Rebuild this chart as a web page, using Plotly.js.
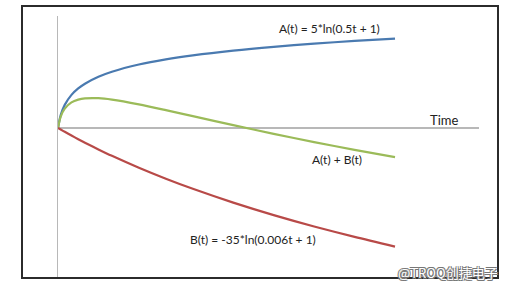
<!DOCTYPE html>
<html>
<head>
<meta charset="utf-8">
<script src="https://cdn.plot.ly/plotly-3.0.1.min.js"></script>
<style>
  html, body { margin: 0; padding: 0; background: #fff; }
  #wrap { position: relative; width: 509px; height: 283px; overflow: hidden; }
  #frame { position: absolute; left: 21px; top: 5px; width: 474px; height: 270px; border: 2px solid #2b2b2b; }
  #chart { position: absolute; left: 0; top: 0; width: 509px; height: 283px; }
</style>
</head>
<body>
<div id="wrap">
  <div id="frame"></div>
  <div id="chart"></div>
</div>
<script>
// Time values
const time = [0, 2, 5, 10, 15, 20, 30, 40, 60, 80, 100, 130, 160, 190, 220, 250];
// A(t) = 5*ln(0.5t + 1)  (blue)
const seriesA = [0, 3.47, 6.26, 8.96, 10.70, 11.99, 13.86, 15.22, 17.17, 18.57, 19.66, 20.95, 21.97, 22.82, 23.55, 24.18];
// B(t) = -35*ln(0.006t + 1)  (red)
const seriesB = [0, -0.42, -1.03, -2.04, -3.02, -3.97, -5.79, -7.53, -10.76, -13.72, -16.45, -20.18, -23.55, -26.63, -29.45, -32.07];
// A(t) + B(t)  (green)
const seriesSum = [0, 3.05, 5.23, 6.92, 7.68, 8.02, 8.07, 7.69, 6.41, 4.85, 3.21, 0.77, -1.58, -3.81, -5.90, -7.89];

const labels = {
  a: 'A(t) = 5*ln(0.5t + 1)',
  b: 'B(t) = -35*ln(0.006t + 1)',
  sum: 'A(t) + B(t)',
  xTitle: 'Time',
  yTitle: 'Δf/f',
  mark: '@TROQ创捷电子'
};

const lineStyle = (c) => ({ color: c, width: 2.2, shape: 'spline', smoothing: 0.8 });

const traces = [
  { x: time, y: seriesA, mode: 'lines', line: lineStyle('#4a7ab0'), hoverinfo: 'skip' },
  { x: time, y: seriesSum, mode: 'lines', line: lineStyle('#9bbb59'), hoverinfo: 'skip' },
  { x: time, y: seriesB, mode: 'lines', line: lineStyle('#b84a48'), hoverinfo: 'skip' }
];

const font = { family: 'Lato, "Open Sans", sans-serif', size: 12, color: '#222' };

const layout = {
  width: 509, height: 283,
  margin: { l: 58, r: 30, t: 16, b: 6, pad: 0 },
  paper_bgcolor: 'rgba(0,0,0,0)',
  plot_bgcolor: 'rgba(0,0,0,0)',
  showlegend: false,
  xaxis: {
    range: [0, 312.3], showgrid: false, zeroline: false, showticklabels: false,
    ticks: '', showline: false, fixedrange: true
  },
  yaxis: {
    range: [-40.3, 30.3], showgrid: false, showticklabels: false, ticks: '',
    zeroline: true, zerolinecolor: '#b8b8b8', zerolinewidth: 1.3,
    showline: true, linecolor: '#b8b8b8', linewidth: 1.3, fixedrange: true
  },
  annotations: [
    { x: 162.5, y: 27, xref: 'x', yref: 'y', xanchor: 'left', yanchor: 'middle', text: labels.a, showarrow: false, font: font },
    { x: 207.3, y: -8.4, xref: 'x', yref: 'y', xanchor: 'center', yanchor: 'middle', text: labels.sum, showarrow: false, font: font },
    { x: 96.4, y: -30.1, xref: 'x', yref: 'y', xanchor: 'left', yanchor: 'middle', text: labels.b, showarrow: false, font: font },
    { x: 286, y: 2.2, xref: 'x', yref: 'y', xanchor: 'center', yanchor: 'middle', text: labels.xTitle, showarrow: false,
      font: { family: font.family, size: 13, color: '#222' } },
    { x: -11.9, y: -1.1, xref: 'x', yref: 'y', xanchor: 'center', yanchor: 'middle', textangle: -90, text: labels.yTitle, showarrow: false,
      font: { family: font.family, size: 13, color: '#222', weight: 'bold' } },
    { x: 1.05, y: 0.019, xref: 'paper', yref: 'paper', xanchor: 'right', yanchor: 'middle', text: labels.mark, showarrow: false,
      font: { family: '"Noto Sans CJK SC", "Noto Sans", sans-serif', size: 13, color: '#ffffff',
        shadow: '-1px -1px 0 #777, 1px -1px 0 #777, -1px 1px 0 #777, 1px 1px 0 #777' } }
  ]
};

Plotly.newPlot('chart', traces, layout, { staticPlot: true, displayModeBar: false });
</script>
</body>
</html>
